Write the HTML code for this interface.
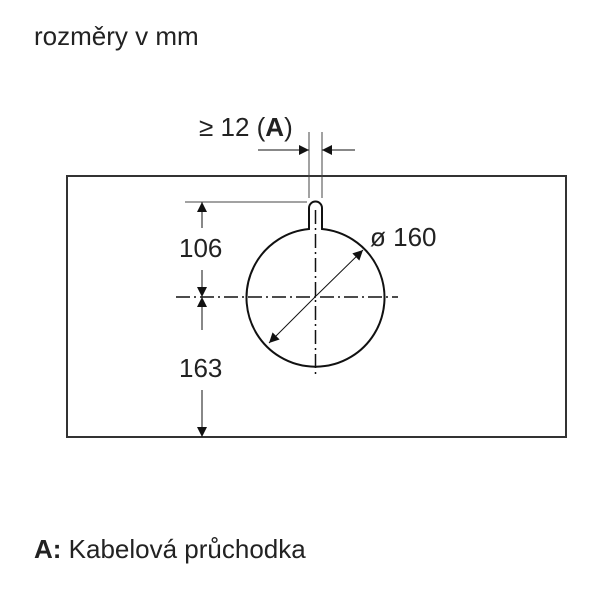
<!DOCTYPE html>
<html><head><meta charset="utf-8"><style>
html,body{margin:0;padding:0;background:#fff;}
body{width:606px;height:598px;overflow:hidden;}
</style></head><body>
<svg width="606" height="598" viewBox="0 0 606 598" xmlns="http://www.w3.org/2000/svg" font-family="Liberation Sans, Arial, sans-serif">
<defs>
<marker id="ar" viewBox="0 0 10 10" refX="10" refY="5" markerWidth="12" markerHeight="10" markerUnits="userSpaceOnUse" orient="auto"><path d="M0,0 L10,5 L0,10 z" fill="#111"/></marker>
</defs>
<text x="34" y="45" font-size="26" fill="#222">rozměry v mm</text>
<rect x="67" y="176" width="499" height="261" fill="none" stroke="#333" stroke-width="2"/>
<path d="M309,213 L309,208 A6.5,6.5 0 0 1 322,208 L322,229 A69,69 0 1 1 309,229 Z" fill="#fff" stroke="#111" stroke-width="2"/>
<line x1="176" y1="297" x2="398" y2="297" stroke="#111" stroke-width="1.5" stroke-dasharray="14,4,2,4"/>
<line x1="315.5" y1="210" x2="315.5" y2="376" stroke="#111" stroke-width="1.5" stroke-dasharray="14,4,2,4"/>
<line x1="309" y1="132" x2="309" y2="198" stroke="#444" stroke-width="1"/>
<line x1="322" y1="132" x2="322" y2="198" stroke="#444" stroke-width="1"/>
<line x1="258" y1="150" x2="309" y2="150" stroke="#111" stroke-width="1" marker-end="url(#ar)"/>
<line x1="355" y1="150" x2="322" y2="150" stroke="#111" stroke-width="1" marker-end="url(#ar)"/>
<text x="199" y="136" font-size="26" fill="#222">≥ 12 (<tspan font-weight="bold">A</tspan>)</text>
<line x1="185" y1="202" x2="307" y2="202" stroke="#444" stroke-width="1"/>
<line x1="202" y1="228" x2="202" y2="202" stroke="#111" stroke-width="1" marker-end="url(#ar)"/>
<line x1="202" y1="270" x2="202" y2="297" stroke="#111" stroke-width="1" marker-end="url(#ar)"/>
<line x1="202" y1="330" x2="202" y2="297" stroke="#111" stroke-width="1" marker-end="url(#ar)"/>
<line x1="202" y1="390" x2="202" y2="437" stroke="#111" stroke-width="1" marker-end="url(#ar)"/>
<text x="179" y="257" font-size="26" fill="#222">106</text>
<text x="179" y="377" font-size="26" fill="#222">163</text>
<line x1="316" y1="296" x2="363" y2="250" stroke="#111" stroke-width="1" marker-end="url(#ar)"/>
<line x1="316" y1="296" x2="269" y2="343" stroke="#111" stroke-width="1" marker-end="url(#ar)"/>
<text x="370" y="246" font-size="26" fill="#222">ø 160</text>
<text x="34" y="558" font-size="26" fill="#222"><tspan font-weight="bold">A:</tspan> Kabelová průchodka</text>
</svg>
</body></html>
